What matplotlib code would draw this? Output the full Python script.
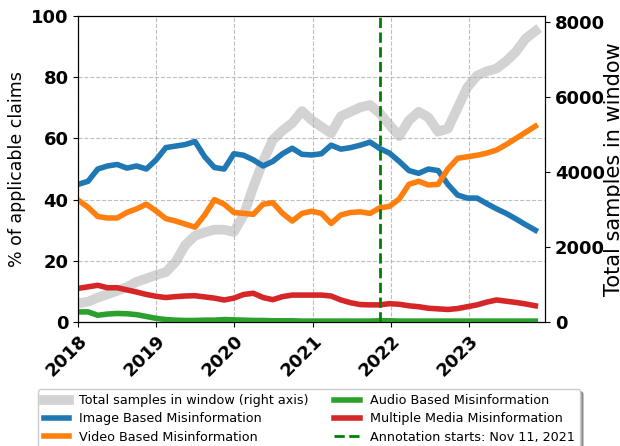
import matplotlib
matplotlib.use("Agg")
import matplotlib.pyplot as plt
import pandas as pd

# rolling-window sample dates, Jan 2018 to early Nov 2023
dates = pd.date_range("2018-01-01", "2023-11-09", periods=48)

total_samples = [500, 540, 650, 740, 830, 930, 1070, 1160, 1250, 1330,
                 1600, 2050, 2300, 2390, 2460, 2460, 2400, 2850, 3600, 4280,
                 4850, 5100, 5300, 5620, 5380, 5200, 5030, 5480, 5600, 5720,
                 5780, 5560, 5250, 4950, 5370, 5600, 5450, 5070, 5150, 5700,
                 6250, 6560, 6680, 6750, 6950, 7200, 7550, 7750]

image_pct = [45, 46, 50, 51, 51.5, 50.3, 51, 50, 53, 57,
             57.5, 58, 59, 54, 50.5, 50, 55, 54.5, 53, 51,
             52.5, 55, 56.8, 54.8, 54.6, 55, 57.8, 56.5, 57, 57.8,
             58.8, 56.7, 55.2, 52.5, 49.5, 48.6, 50, 49.5, 45, 41.5,
             40.5, 40.5, 38.7, 37, 35.5, 33.7, 31.8, 30]

video_pct = [39.8, 37.5, 34.5, 34, 34, 35.8, 37, 38.5, 36.3, 33.8,
             33, 32, 31, 35, 40, 38.5, 35.8, 35.5, 35.2, 38.5,
             39, 35.5, 33, 35.5, 36.2, 35.5, 32.2, 35, 35.8, 36,
             35.5, 37.3, 37.8, 40.2, 45, 46, 44.8, 45, 50, 53.5,
             54, 54.5, 55.2, 56.2, 58, 60, 62, 64]

audio_pct = [3.3, 3.3, 2.2, 2.6, 2.8, 2.7, 2.4, 1.8, 1.2, 0.8,
             0.6, 0.5, 0.5, 0.6, 0.6, 0.8, 0.7, 0.6, 0.5, 0.5,
             0.4, 0.4, 0.4, 0.3, 0.3, 0.3, 0.3, 0.3, 0.3, 0.3,
             0.3, 0.4, 0.4, 0.3, 0.3, 0.3, 0.3, 0.3, 0.3, 0.3,
             0.3, 0.3, 0.3, 0.3, 0.3, 0.3, 0.3, 0.3]

multi_pct = [11, 11.5, 12, 11.2, 11.2, 10.5, 9.8, 9, 8.4, 8,
             8.3, 8.5, 8.6, 8.2, 7.8, 7.2, 7.8, 9, 9.4, 8,
             7.3, 8.3, 8.8, 8.8, 8.8, 8.8, 8.5, 7.2, 6.3, 5.7,
             5.6, 5.6, 6, 5.8, 5.3, 5, 4.5, 4.3, 4.1, 4.4,
             5, 5.6, 6.5, 7.2, 6.8, 6.4, 5.9, 5.3]

annotation_start = pd.Timestamp("2021-11-11")
years = [2018, 2019, 2020, 2021, 2022, 2023]

fig = plt.figure(figsize=(6.2, 4.46), dpi=100)
ax = fig.add_axes([0.1263, 0.278, 0.7527, 0.686])
ax2 = ax.twinx()

# total samples on the right axis, drawn behind the percentages
l_total, = ax2.plot(dates, total_samples, color="lightgray", lw=7,
                    label="Total samples in window (right axis)")
ax.set_zorder(ax2.get_zorder() + 1)
ax.patch.set_visible(False)

l_img, = ax.plot(dates, image_pct, color="tab:blue", lw=4, label="Image Based Misinformation")
l_vid, = ax.plot(dates, video_pct, color="tab:orange", lw=4, label="Video Based Misinformation")
l_aud, = ax.plot(dates, audio_pct, color="tab:green", lw=4, label="Audio Based Misinformation")
l_mul, = ax.plot(dates, multi_pct, color="tab:red", lw=4, label="Multiple Media Misinformation")
l_ann = ax.axvline(annotation_start, color="green", ls="--", lw=2,
                   label="Annotation starts: Nov 11, 2021")

ax.set_xlim(dates[0], pd.Timestamp("2023-12-24"))
ax.set_ylim(0, 100)
ax2.set_ylim(0, 8150)
ax2.set_yticks([0, 2000, 4000, 6000, 8000])

ax.set_xticks([pd.Timestamp(f"{y}-01-01") for y in years])
ax.set_xticklabels([str(y) for y in years], rotation=45, ha="right",
                   rotation_mode="anchor", fontsize=13, fontweight="bold")
for lab in ax.get_yticklabels() + ax2.get_yticklabels():
    lab.set_fontsize(13)
    lab.set_fontweight("bold")

ax.grid(True, linestyle="--", alpha=0.8)
ax.set_ylabel("% of applicable claims", fontsize=12.5)
ax2.set_ylabel("Total samples in window", fontsize=15)
ax2.yaxis.set_label_coords(1.127, 0.5)

handles = [l_total, l_img, l_vid, l_aud, l_mul, l_ann]
ax.legend(handles=handles, loc="upper center", bbox_to_anchor=(0.495, -0.198),
          ncol=2, fontsize=9.2, shadow=True, labelspacing=0.42)

fig.savefig("out.png", dpi=100)
